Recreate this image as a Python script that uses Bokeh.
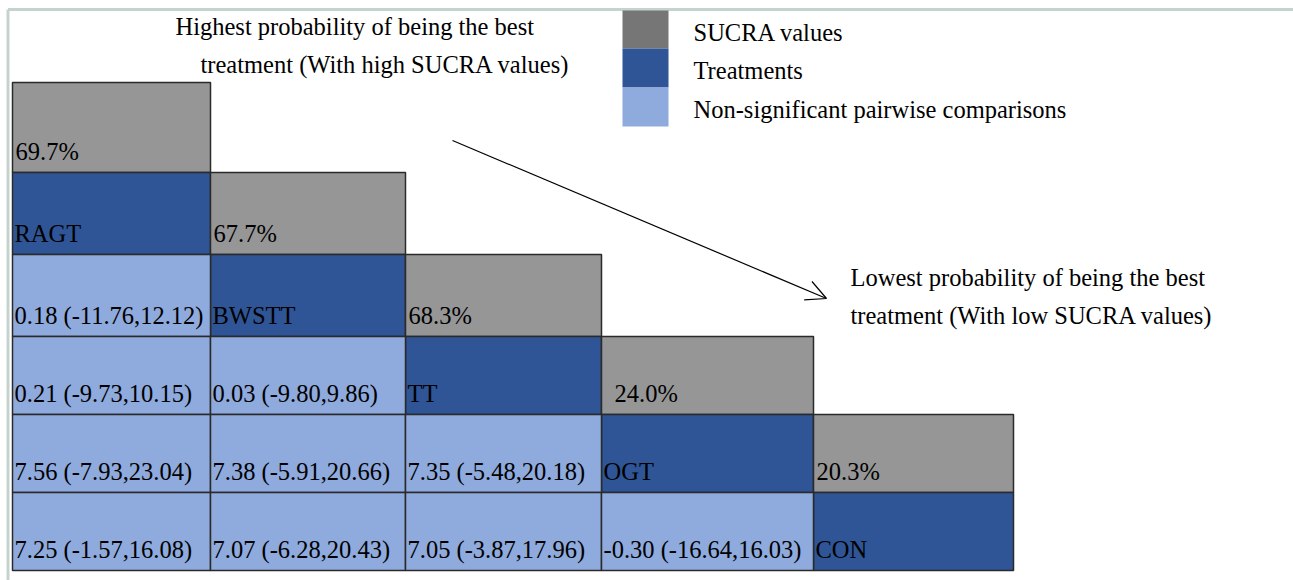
from bokeh.plotting import figure
from bokeh.models import Range1d, ColumnDataSource, Arrow, OpenHead
from bokeh.core.properties import value
from bokeh.embed import file_html
from bokeh.resources import INLINE

# ---------------- data ----------------
treatments = ["RAGT", "BWSTT", "TT", "OGT", "CON"]
sucra = [69.7, 67.7, 68.3, 24.0, 20.3]
# pairwise comparisons (row treatment index, column treatment index)
cmp_row = [1, 2, 2, 3, 3, 3, 4, 4, 4, 4]
cmp_col = [0, 0, 1, 0, 1, 2, 0, 1, 2, 3]
cmp_est = [0.18, 0.21, 0.03, 7.56, 7.38, 7.35, 7.25, 7.07, 7.05, -0.30]
cmp_lo = [-11.76, -9.73, -9.80, -7.93, -5.91, -5.48, -1.57, -6.28, -3.87, -16.64]
cmp_hi = [12.12, 10.15, 9.86, 23.04, 20.66, 20.18, 16.08, 20.43, 17.96, 16.03]
legend_labels = ["SUCRA values", "Treatments", "Non-significant pairwise comparisons"]
note_high = ["Highest probability of being the best", "treatment (With high SUCRA values)"]
note_low = ["Lowest probability of being the best", "treatment (With low SUCRA values)"]

# ---------------- layout / style ----------------
W, H = 1293, 580
col_edges = [12, 210, 405, 601, 813, 1013]
row_edges = [82, 172, 254, 336, 414, 492, 570]
sucra_dx = [3, 3, 3, 13, 3]
GRAY, DARK, LIGHT, LEG_GRAY = "#969696", "#2F5597", "#8FAADC", "#767676"
FRAME = "#C5D3CD"
FONT = value("'Liberation Serif', 'Times New Roman', serif")
FS = "24.5px"
BASE = 21

p = figure(width=W, height=H, output_backend="svg", toolbar_location=None,
           x_range=Range1d(0, W), y_range=Range1d(H, 0), min_border=0)
p.axis.visible = False
p.grid.visible = False
p.outline_line_color = None
p.background_fill_color = "white"

# frame lines
p.line([7.5, 7.5], [9, H], line_color=FRAME, line_width=3)
p.line([7.5, W], [9, 9], line_color=FRAME, line_width=3)

# build cells
L, R, T, B, C, TX, TY, TXT = [], [], [], [], [], [], [], []
def add(r, c, color, txt, dx=2):
    L.append(col_edges[c]); R.append(col_edges[c + 1])
    T.append(row_edges[r]); B.append(row_edges[r + 1])
    C.append(color); TX.append(col_edges[c] + dx); TY.append(row_edges[r + 1] - BASE)
    TXT.append(txt)

for i, t in enumerate(treatments):
    add(i, i, GRAY, f"{sucra[i]:.1f}%", sucra_dx[i])
    add(i + 1, i, DARK, t)
for r, c, e, lo, hi in zip(cmp_row, cmp_col, cmp_est, cmp_lo, cmp_hi):
    add(r + 1, c, LIGHT, f"{e:.2f} ({lo:.2f},{hi:.2f})")

src = ColumnDataSource(dict(left=L, right=R, top=T, bottom=B, color=C, tx=TX, ty=TY, txt=TXT))
p.quad(left="left", right="right", top="top", bottom="bottom", fill_color="color",
       line_color="#2a2a2a", line_width=1.5, source=src)
p.text(x="tx", y="ty", text="txt", source=src, text_font=FONT, text_font_size=FS,
       text_color="black", text_baseline="alphabetic", text_align="left")

# legend
leg_colors = [LEG_GRAY, DARK, LIGHT]
leg_edges = [10, 48, 87, 126]
p.quad(left=[622] * 3, right=[668] * 3, top=leg_edges[:-1], bottom=leg_edges[1:],
       fill_color=leg_colors, line_color=None)
p.text(x=[693] * 3, y=[32, 70, 109], text=legend_labels, text_font=FONT, text_font_size=FS,
       text_color="black", text_baseline="alphabetic")

# notes
p.text(x=[175, 200], y=[26, 64], text=note_high, text_font=FONT, text_font_size=FS,
       text_color="black", text_baseline="alphabetic")
p.text(x=[850, 850], y=[277, 315], text=note_low, text_font=FONT, text_font_size=FS,
       text_color="black", text_baseline="alphabetic")
p.add_layout(Arrow(x_start=452, y_start=140, x_end=826, y_end=298,
                   end=OpenHead(size=20, line_width=1.2, line_color="black"),
                   line_width=1.2, line_color="black"))

open("out.html", "w").write(file_html(p, INLINE))
